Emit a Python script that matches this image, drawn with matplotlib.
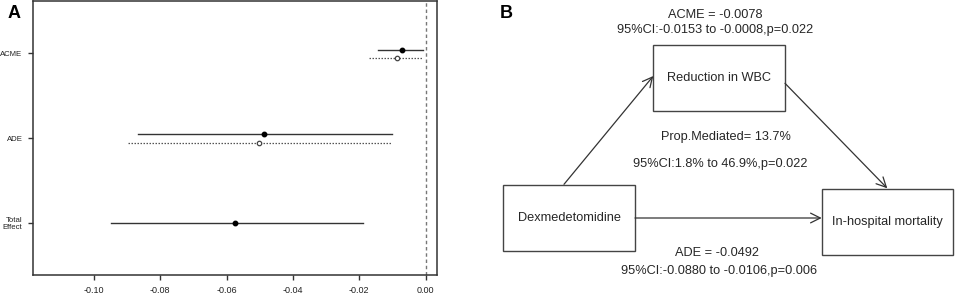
import matplotlib
matplotlib.use('Agg')
import matplotlib.pyplot as plt
from matplotlib.patches import Rectangle, FancyArrowPatch

plt.rcParams['font.family'] = ['Liberation Sans', 'DejaVu Sans']

# panel A: mediation estimates
effects = ['ACME', 'ADE', 'Total\nEffect']
ypos = [3, 2, 1]
est_treated = [-0.0071, -0.0487, -0.0573]
lo_treated = [-0.0145, -0.0867, -0.0949]
hi_treated = [-0.0007, -0.0102, -0.0190]
est_control = [-0.0087, -0.0502]
lo_control = [-0.0172, -0.0896]
hi_control = [-0.0010, -0.0105]
xticks = [-0.10, -0.08, -0.06, -0.04, -0.02, 0.00]

# panel B: path diagram text
node_names = ['Dexmedetomidine', 'Reduction in WBC', 'In-hospital mortality']
acme_text = ['ACME = -0.0078', '95%CI:-0.0153 to -0.0008,p=0.022']
prop_text = ['Prop.Mediated= 13.7%', '95%CI:1.8% to 46.9%,p=0.022']
ade_text = ['ADE = -0.0492', '95%CI:-0.0880 to -0.0106,p=0.006']

W, H = 955, 294
fig = plt.figure(figsize=(W / 100, H / 100), dpi=100)

ax = fig.add_axes([33 / W, 1 - 275 / H, (437 - 33) / W, (275 - 1) / H])
ax.set_xlim(-0.1183, 0.0034)
ax.set_ylim(0.38, 3.62)
ax.axvline(0, color='#777777', lw=1, ls=(0, (2.5, 2)))

off = 0.045
for i in range(len(est_treated)):
    y = ypos[i] + (off if i < len(est_control) else 0)
    ax.plot([lo_treated[i], hi_treated[i]], [y, y], color='#333333', lw=1)
    ax.plot(est_treated[i], y, 'o', color='black', ms=3.2)
for i in range(len(est_control)):
    y = ypos[i] - off * 1.3
    ax.plot([lo_control[i], hi_control[i]], [y, y], color='#555555', lw=0.9,
            ls=(0, (1.2, 1.2)))
    ax.plot(est_control[i], y, 'o', mfc='white', mec='#444444', mew=0.9, ms=3.2)

ax.set_yticks(ypos)
ax.set_yticklabels(effects, fontsize=5.6, linespacing=1.15, color='#222222')
ax.set_xticks(xticks)
ax.set_xticklabels(['%.2f' % t for t in xticks], fontsize=6.5, color='#222222')
ax.tick_params(axis='both', direction='out', length=3.5, width=1, color='#333333')
ax.tick_params(axis='x', pad=4.5)
ax.tick_params(axis='y', pad=4)
for s in ax.spines.values():
    s.set_color('#333333')
    s.set_linewidth(1.1)

fig.text(8 / W, 1 - 14 / H, 'A', fontsize=13, fontweight='bold', va='center', ha='left')

# panel B drawn in pixel coordinates over the whole figure
bx = fig.add_axes([0, 0, 1, 1])
bx.set_xlim(0, W)
bx.set_ylim(H, 0)
bx.axis('off')

boxes = [(503.3, 185, 635, 250.7), (653.3, 45, 784.7, 110.7), (821.7, 188.7, 952.7, 255)]
tcol = '#262626'
fs = 9.2
for name, (x0, y0, x1, y1) in zip(node_names, boxes):
    bx.add_patch(Rectangle((x0, y0), x1 - x0, y1 - y0, fill=False, ec='#444444', lw=1))
    bx.text((x0 + x1) / 2, (y0 + y1) / 2, name, ha='center', va='center',
            fontsize=fs, color=tcol)

arrows = [((564, 184.3), (653.3, 76)), ((785, 83.3), (887.3, 188.3)), ((635, 218), (821.7, 218))]
for a, b in arrows:
    bx.add_patch(FancyArrowPatch(a, b, arrowstyle='->,head_length=7,head_width=3.5',
                                 color='#333333', lw=0.9, shrinkA=0, shrinkB=0))

bx.text(715, 15, acme_text[0], ha='center', va='center', fontsize=fs, color=tcol)
bx.text(715, 30, acme_text[1], ha='center', va='center', fontsize=fs, color=tcol)
bx.text(725.7, 137, prop_text[0], ha='center', va='center', fontsize=fs, color=tcol)
bx.text(720, 164, prop_text[1], ha='center', va='center', fontsize=fs, color=tcol)
bx.text(716.7, 253.3, ade_text[0], ha='center', va='center', fontsize=fs, color=tcol)
bx.text(719, 270.7, ade_text[1], ha='center', va='center', fontsize=fs, color=tcol)
bx.text(500, 14, 'B', ha='left', va='center', fontsize=13, fontweight='bold')

fig.savefig('out.png', dpi=100)
